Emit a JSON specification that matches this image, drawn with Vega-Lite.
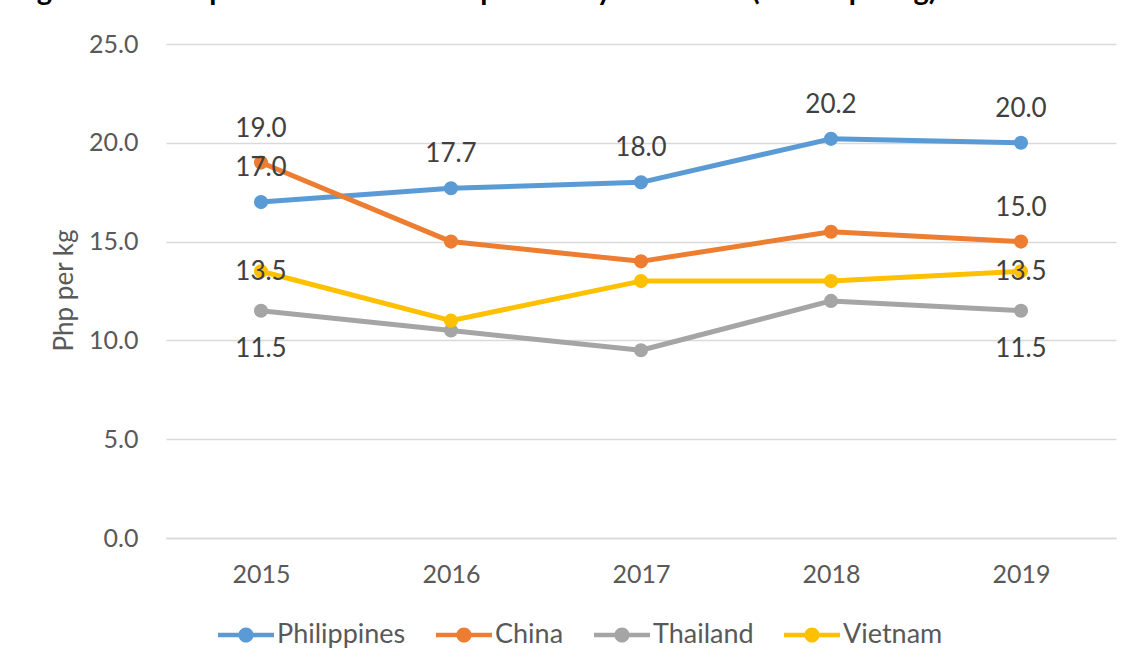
{
  "$schema": "https://vega.github.io/schema/vega-lite/v6.json",
  "width": 950,
  "height": 494,
  "autosize": {"type": "none"},
  "padding": {"left": 166, "top": 44, "right": 19, "bottom": 130},
  "background": "#ffffff",
  "config": {"view": {"stroke": null}},
  "title": {
    "text": "Figure 15: Comparison of wholesale prices of yellow corn (in PhP per kg)",
    "anchor": "start",
    "frame": "group",
    "dx": -153,
    "offset": 26,
    "font": "Lato",
    "fontSize": 29,
    "fontWeight": "bold",
    "color": "#000000"
  },
  "data": {
    "values": [
      {"year": "2015", "country": "Philippines", "price": 17.0},
      {"year": "2016", "country": "Philippines", "price": 17.7},
      {"year": "2017", "country": "Philippines", "price": 18.0},
      {"year": "2018", "country": "Philippines", "price": 20.2},
      {"year": "2019", "country": "Philippines", "price": 20.0},
      {"year": "2015", "country": "China", "price": 19.0},
      {"year": "2016", "country": "China", "price": 15.0},
      {"year": "2017", "country": "China", "price": 14.0},
      {"year": "2018", "country": "China", "price": 15.5},
      {"year": "2019", "country": "China", "price": 15.0},
      {"year": "2015", "country": "Thailand", "price": 11.5},
      {"year": "2016", "country": "Thailand", "price": 10.5},
      {"year": "2017", "country": "Thailand", "price": 9.5},
      {"year": "2018", "country": "Thailand", "price": 12.0},
      {"year": "2019", "country": "Thailand", "price": 11.5},
      {"year": "2015", "country": "Vietnam", "price": 13.5},
      {"year": "2016", "country": "Vietnam", "price": 11.0},
      {"year": "2017", "country": "Vietnam", "price": 13.0},
      {"year": "2018", "country": "Vietnam", "price": 13.0},
      {"year": "2019", "country": "Vietnam", "price": 13.5}
    ]
  },
  "encoding": {
    "x": {
      "field": "year",
      "type": "ordinal",
      "scale": {"type": "point", "padding": 0.5},
      "axis": {
        "title": null,
        "labelAngle": 0,
        "labelFont": "Lato",
        "labelFontSize": 25,
        "labelColor": "#595959",
        "labelPadding": 24,
        "ticks": false,
        "domain": true,
        "domainColor": "#D9D9D9",
        "domainWidth": 1.5,
        "grid": false
      }
    },
    "y": {
      "field": "price",
      "type": "quantitative",
      "scale": {"domain": [0, 25]},
      "axis": {
        "values": [0, 5, 10, 15, 20, 25],
        "format": ".1f",
        "title": "Php per kg",
        "titleFont": "Lato",
        "titleFontSize": 26,
        "titleFontWeight": "normal",
        "titleColor": "#595959",
        "titleX": -102,
        "titleY": 246,
        "titleAngle": -90,
        "titleBaseline": "middle",
        "titleAlign": "center",
        "labelFont": "Lato",
        "labelFontSize": 25,
        "labelColor": "#595959",
        "labelPadding": 28,
        "ticks": false,
        "domain": false,
        "grid": true,
        "gridColor": "#D9D9D9",
        "gridWidth": 1.5
      }
    },
    "color": {
      "field": "country",
      "type": "nominal",
      "scale": {"domain": ["Philippines", "China", "Thailand", "Vietnam"], "range": ["#5B9BD5", "#ED7D31", "#A5A5A5", "#FFC000"]},
      "legend": {
        "title": null,
        "orient": "none",
        "direction": "horizontal",
        "legendX": 52,
        "legendY": 563,
        "padding": 0,
        "symbolType": "M-1,-0.08H1V0.08H-1Z M0.27,0A0.27,0.27 0 1,1 -0.27,0A0.27,0.27 0 1,1 0.27,0Z",
        "symbolSize": 3136,
        "symbolStrokeWidth": 0,
        "symbolOpacity": 1,
        "labelFont": "Lato",
        "labelFontSize": 27,
        "labelColor": "#595959",
        "labelOffset": 3,
        "columnPadding": 30,
        "encode": {
          "symbols": {"update": {"fill": {"scale": "color", "field": "value"}, "opacity": {"value": 1}, "strokeWidth": {"value": 0}}}
        }
      }
    }
  },
  "layer": [
    {
      "mark": {"type": "line", "strokeWidth": 5, "strokeCap": "round", "strokeJoin": "round"}
    },
    {
      "mark": {"type": "point", "filled": true, "size": 200, "opacity": 1}
    },
    {
      "transform": [{"filter": "datum.country === 'Philippines' || (datum.country === 'China' && (datum.year === '2015' || datum.year === '2019'))"}],
      "mark": {"type": "text", "dy": -34, "font": "Lato", "fontSize": 26, "color": "#404040"},
      "encoding": {"text": {"field": "price", "type": "quantitative", "format": ".1f"}, "color": {"value": "#404040"}}
    },
    {
      "transform": [{"filter": "datum.country === 'Thailand' && (datum.year === '2015' || datum.year === '2019')"}],
      "mark": {"type": "text", "dy": 38, "font": "Lato", "fontSize": 26, "color": "#404040"},
      "encoding": {"text": {"field": "price", "type": "quantitative", "format": ".1f"}, "color": {"value": "#404040"}}
    },
    {
      "transform": [{"filter": "datum.country === 'Vietnam' && (datum.year === '2015' || datum.year === '2019')"}],
      "mark": {"type": "text", "dy": 1, "font": "Lato", "fontSize": 26, "color": "#404040"},
      "encoding": {"text": {"field": "price", "type": "quantitative", "format": ".1f"}, "color": {"value": "#404040"}}
    }
  ]
}
